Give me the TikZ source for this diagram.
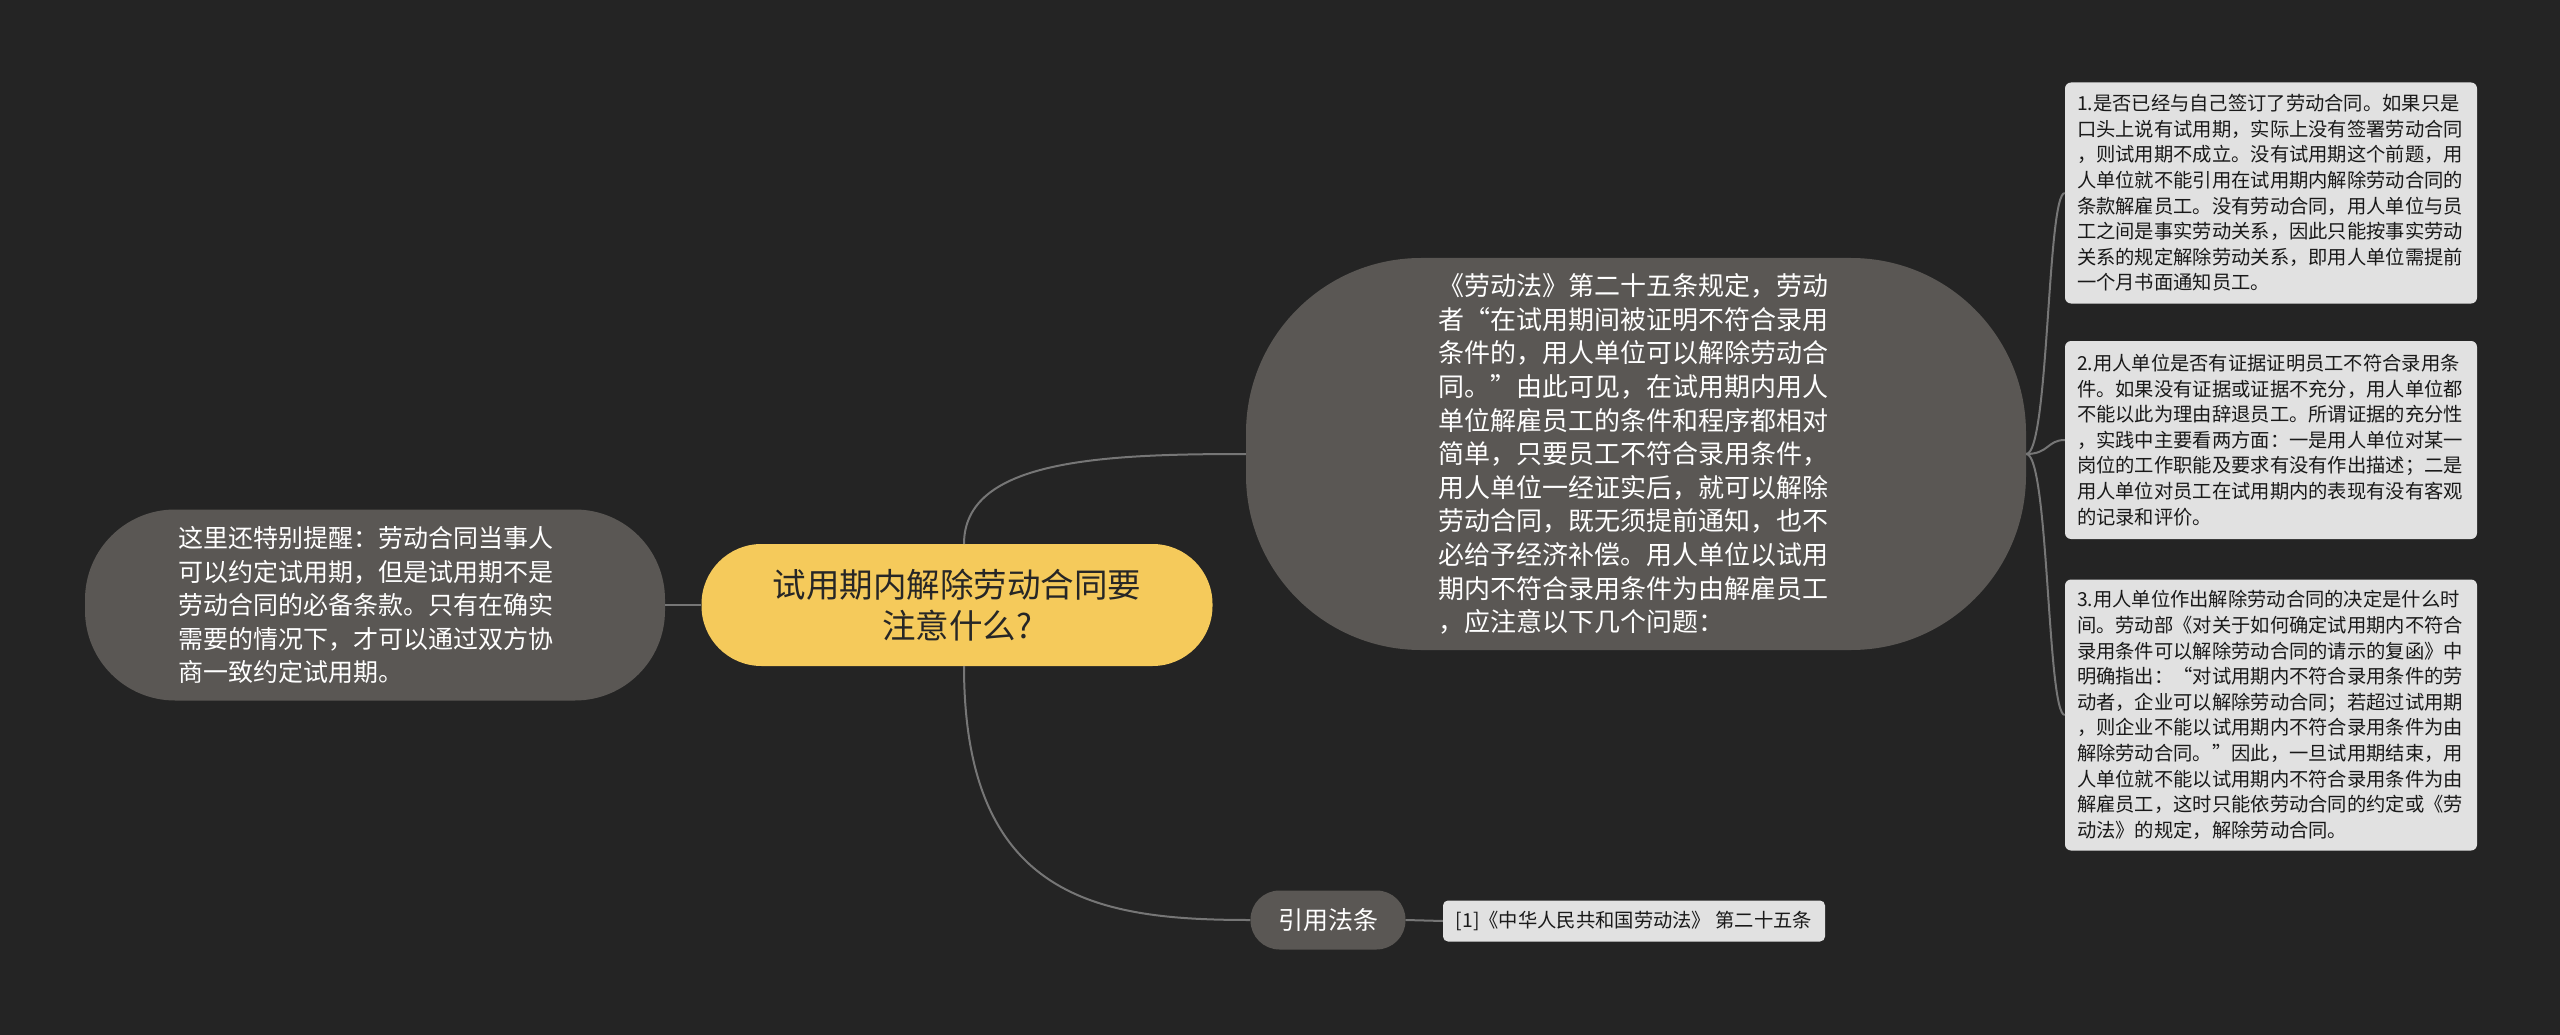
\documentclass[tikz,border=0pt]{standalone}
\usepackage{fontspec}
\setmainfont{Noto Sans CJK SC}
\usepackage{xcolor}
\usepackage{tikz}

\definecolor{bgdark}{HTML}{242424}
\definecolor{topicyellow}{HTML}{F5CA5B}
\definecolor{nodegray}{HTML}{5A5754}
\definecolor{boxgray}{HTML}{E1E1E1}
\definecolor{linegray}{HTML}{767676}

\tikzset{
  topicnode/.style={fill=topicyellow, text=black!85, rounded corners=60pt, inner sep=0pt,
    minimum width=511pt, minimum height=122pt, align=center,
    font=\fontsize{33.5}{41}\selectfont},
  graynode/.style={fill=nodegray, text=white, inner sep=0pt, align=left},
  notebox/.style={fill=boxgray, text=black!90, rounded corners=6pt, inner sep=0pt,
    minimum width=412pt, align=left, text width=388pt,
    font=\fontsize{19.3}{25.6}\selectfont},
  linkline/.style={draw=linegray, line width=2pt}
}

\begin{document}
\begin{tikzpicture}[x=1pt, y=-1pt]
  \fill[bgdark] (0,0) rectangle (2560,1035);
  \useasboundingbox (0,0) rectangle (2560,1035);

  % central topic
  \node[topicnode] (topic) at (957,605) {试用期内解除劳动合同要\\注意什么?};

  % left note
  \node[graynode, rounded corners=90pt, minimum width=580pt, minimum height=191pt,
    text width=377pt, font=\fontsize{25}{33.5}\selectfont] (tip) at (375,605)
    {\hspace*{-8pt}这里还特别提醒：劳动合同当事人\\\hspace*{-8pt}可以约定试用期，但是试用期不是\\\hspace*{-8pt}劳动合同的必备条款。只有在确实\\\hspace*{-8pt}需要的情况下，才可以通过双方协\\\hspace*{-8pt}商一致约定试用期。};

  % right explanation
  \node[graynode, rounded corners=175pt, minimum width=780pt, minimum height=392pt,
    text width=395pt, font=\fontsize{26}{33.6}\selectfont] (law) at (1636,454)
    {《劳动法》第二十五条规定，劳动\\者“在试用期间被证明不符合录用\\条件的，用人单位可以解除劳动合\\同。”由此可见，在试用期内用人\\单位解雇员工的条件和程序都相对\\简单，只要员工不符合录用条件，\\用人单位一经证实后，就可以解除\\劳动合同，既无须提前通知，也不\\必给予经济补偿。用人单位以试用\\期内不符合录用条件为由解雇员工\\，应注意以下几个问题：};

  % three points
  \node[notebox, minimum height=221pt] (pointa) at (2271,193)
    {1.是否已经与自己签订了劳动合同。如果只是\\口头上说有试用期，实际上没有签署劳动合同\\，则试用期不成立。没有试用期这个前题，用\\人单位就不能引用在试用期内解除劳动合同的\\条款解雇员工。没有劳动合同，用人单位与员\\工之间是事实劳动关系，因此只能按事实劳动\\关系的规定解除劳动关系，即用人单位需提前\\一个月书面通知员工。};
  \node[notebox, minimum height=198pt] (pointb) at (2271,440)
    {2.用人单位是否有证据证明员工不符合录用条\\件。如果没有证据或证据不充分，用人单位都\\不能以此为理由辞退员工。所谓证据的充分性\\，实践中主要看两方面：一是用人单位对某一\\岗位的工作职能及要求有没有作出描述；二是\\用人单位对员工在试用期内的表现有没有客观\\的记录和评价。};
  \node[notebox, minimum height=271pt] (pointc) at (2271,715)
    {3.用人单位作出解除劳动合同的决定是什么时\\间。劳动部《对关于如何确定试用期内不符合\\录用条件可以解除劳动合同的请示的复函》中\\明确指出：“对试用期内不符合录用条件的劳\\动者，企业可以解除劳动合同；若超过试用期\\，则企业不能以试用期内不符合录用条件为由\\解除劳动合同。”因此，一旦试用期结束，用\\人单位就不能以试用期内不符合录用条件为由\\解雇员工，这时只能依劳动合同的约定或《劳\\动法》的规定，解除劳动合同。};

  % citation
  \node[graynode, rounded corners=29pt, minimum width=155pt, minimum height=59pt,
    align=center, font=\fontsize{25}{30}\selectfont] (cite) at (1328,920) {引用法条};
  \node[notebox, rounded corners=5pt, minimum width=382pt, minimum height=41pt,
    text width=, align=center] (source) at (1634,921)
    {[1]《中华人民共和国劳动法》 第二十五条};

  % connectors
  \draw[linkline] (topic.west) -- (tip.east);
  \draw[linkline] (964,544) .. controls (964,460) and (1100,454) .. (law.west);
  \draw[linkline] (964,666) .. controls (964,900) and (1100,920) .. (cite.west);
  \foreach \pt in {pointa, pointb, pointc}
    \draw[linkline] (law.east) .. controls (2049,454) and (2047,454 |- \pt.west) .. (\pt.west);
  \draw[linkline] (cite.east) -- (source.west);
\end{tikzpicture}
\end{document}
